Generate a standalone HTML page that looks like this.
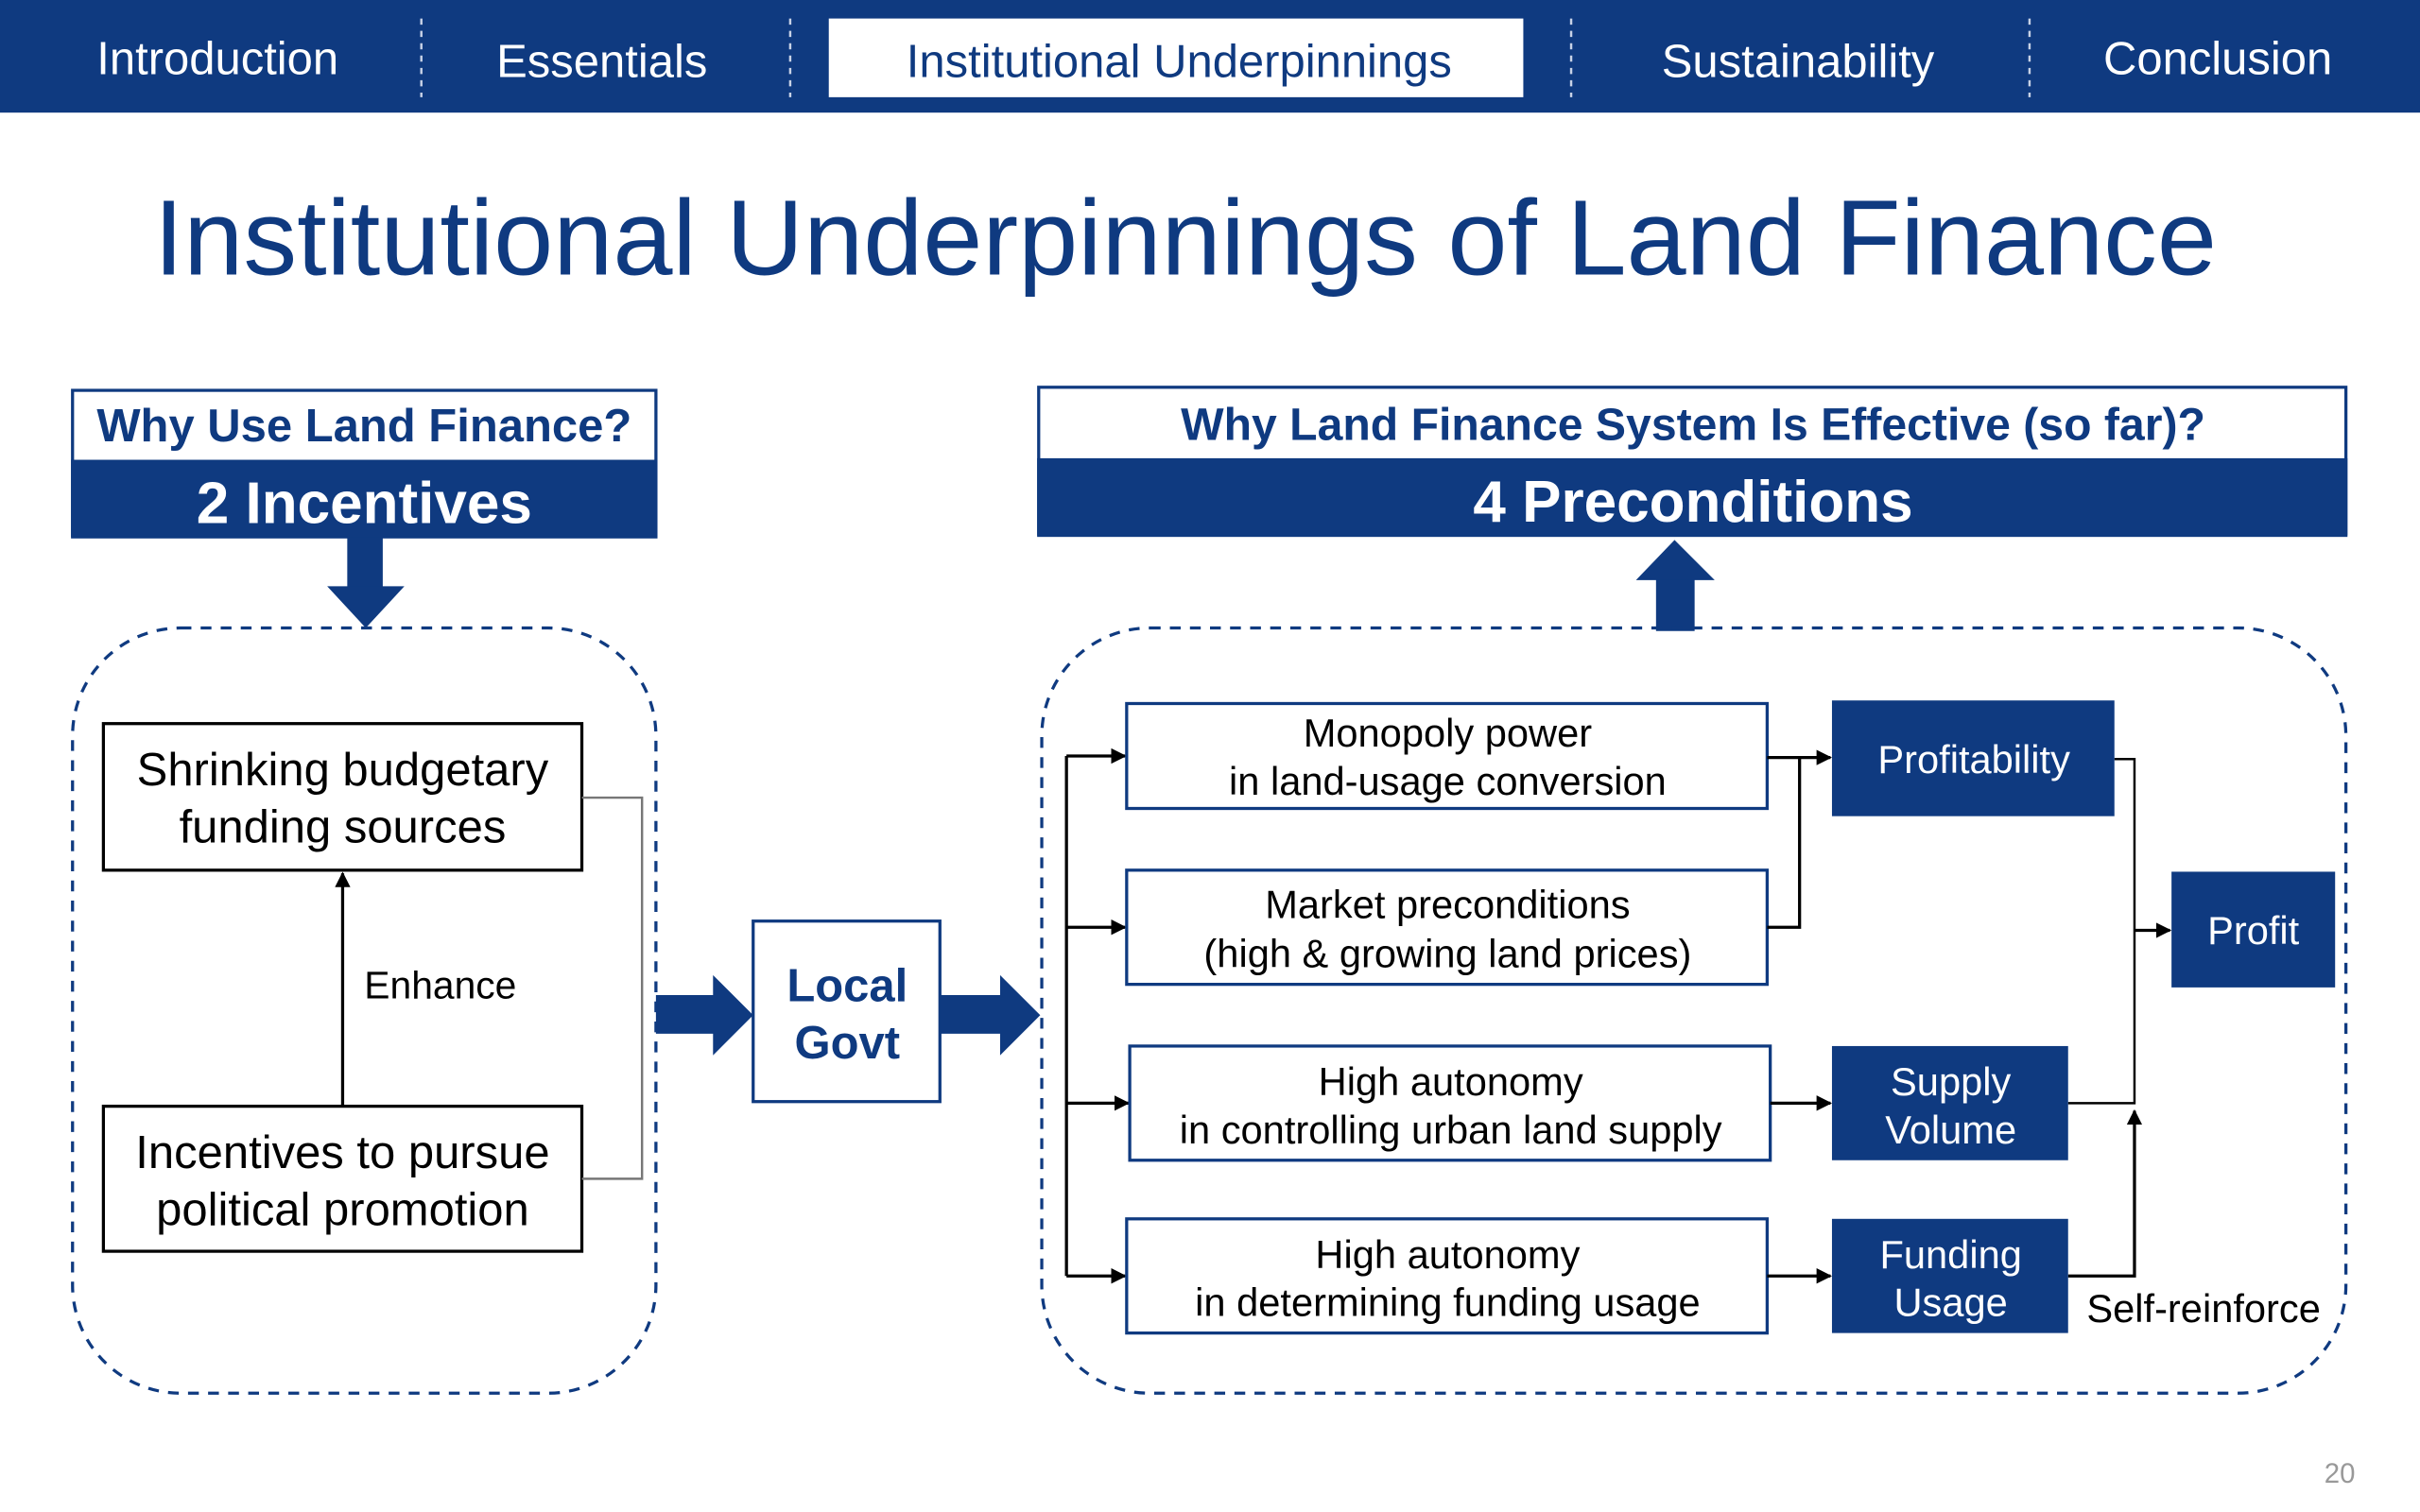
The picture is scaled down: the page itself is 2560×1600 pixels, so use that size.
<!DOCTYPE html>
<html><head><meta charset="utf-8"><style>
html,body{margin:0;padding:0;background:#fff;}
svg{display:block;}
text{font-family:"Liberation Sans",Arial,sans-serif;}
</style></head><body>
<svg width="2560" height="1600" viewBox="0 0 1568 980" xmlns="http://www.w3.org/2000/svg">
<defs>
<marker id="ah" markerWidth="10" markerHeight="10" refX="9" refY="5" orient="auto" markerUnits="userSpaceOnUse">
<path d="M0,0 L10,5 L0,10 z" fill="#000"/></marker>
</defs>
<rect x="0" y="0" width="1568" height="73" fill="#0f3a80"/>
<g stroke="#c8d2e6" stroke-width="1.5" stroke-dasharray="4,4">
<line x1="273" y1="12" x2="273" y2="63"/><line x1="512" y1="12" x2="512" y2="63"/>
<line x1="1018" y1="12" x2="1018" y2="63"/><line x1="1315" y1="12" x2="1315" y2="63"/></g>
<rect x="537" y="12" width="450" height="51" fill="#fff"/>
<g font-size="30" text-anchor="middle" fill="#fff">
<text x="141" y="48">Introduction</text><text x="390" y="50">Essentials</text>
<text x="764" y="50" fill="#0f3a80">Institutional Underpinnings</text>
<text x="1165" y="50">Sustainability</text><text x="1437" y="48">Conclusion</text></g>
<text x="768" y="178" font-size="69.5" text-anchor="middle" fill="#0f3a80">Institutional Underpinnings of Land Finance</text>
<rect x="47" y="253" width="378" height="95" fill="#fff" stroke="#0f3a80" stroke-width="2"/>
<rect x="46" y="298" width="380" height="50" fill="#0f3a80"/>
<text x="236" y="286" font-size="30" font-weight="bold" text-anchor="middle" fill="#0f3a80">Why Use Land Finance?</text>
<text x="236" y="339" font-size="38" font-weight="bold" text-anchor="middle" fill="#fff">2 Incentives</text>
<rect x="225" y="348" width="23" height="33" fill="#0f3a80"/>
<path d="M212,380 L262,380 L237,407 z" fill="#0f3a80"/>
<rect x="47" y="407" width="378" height="496" rx="70" fill="none" stroke="#0f3a80" stroke-width="2" stroke-dasharray="7,6"/>
<rect x="67" y="469" width="310" height="95" fill="#fff" stroke="#000" stroke-width="2"/>
<text x="222" y="509" font-size="30" text-anchor="middle">Shrinking budgetary</text>
<text x="222" y="546" font-size="30" text-anchor="middle">funding sources</text>
<rect x="67" y="717" width="310" height="94" fill="#fff" stroke="#000" stroke-width="2"/>
<text x="222" y="757" font-size="30" text-anchor="middle">Incentives to pursue</text>
<text x="222" y="794" font-size="30" text-anchor="middle">political promotion</text>
<line x1="222" y1="717" x2="222" y2="566" stroke="#000" stroke-width="2" marker-end="url(#ah)"/>
<text x="236" y="647" font-size="25">Enhance</text>
<polyline points="377,517 416,517 416,764 377,764" fill="none" stroke="#777" stroke-width="1.5"/>
<path d="M425,645 L462,645 L462,632 L488,658 L462,684 L462,670 L425,670 z" fill="#0f3a80"/>
<rect x="488" y="597" width="121" height="117" fill="#fff" stroke="#0f3a80" stroke-width="2"/>
<text x="549" y="649" font-size="30" font-weight="bold" text-anchor="middle" fill="#0f3a80">Local</text>
<text x="549" y="686" font-size="30" font-weight="bold" text-anchor="middle" fill="#0f3a80">Govt</text>
<path d="M609,645 L648,645 L648,632 L674,658 L648,684 L648,670 L609,670 z" fill="#0f3a80"/>
<rect x="673" y="251" width="847" height="96" fill="#fff" stroke="#0f3a80" stroke-width="2"/>
<rect x="672" y="297" width="849" height="50" fill="#0f3a80"/>
<text x="1097" y="285" font-size="29.5" font-weight="bold" text-anchor="middle" fill="#0f3a80">Why Land Finance System Is Effective (so far)?</text>
<text x="1097" y="338" font-size="38" font-weight="bold" text-anchor="middle" fill="#fff">4 Preconditions</text>
<rect x="1073" y="374" width="25" height="35" fill="#0f3a80"/>
<path d="M1060,376 L1111,376 L1085,350 z" fill="#0f3a80"/>
<rect x="675" y="407" width="845" height="496" rx="70" fill="none" stroke="#0f3a80" stroke-width="2" stroke-dasharray="7,6"/>
<line x1="691" y1="490" x2="691" y2="827" stroke="#000" stroke-width="2"/>
<g stroke="#000" stroke-width="2" marker-end="url(#ah)">
<line x1="691" y1="490" x2="729" y2="490"/><line x1="691" y1="601" x2="729" y2="601"/>
<line x1="691" y1="715" x2="731" y2="715"/><line x1="691" y1="827" x2="729" y2="827"/></g>
<g fill="#fff" stroke="#0f3a80" stroke-width="2">
<rect x="730" y="456" width="415" height="68"/><rect x="730" y="564" width="415" height="74"/>
<rect x="732" y="678" width="415" height="74"/><rect x="730" y="790" width="415" height="74"/></g>
<g font-size="25.5" text-anchor="middle">
<text x="938" y="484">Monopoly power</text><text x="938" y="515">in land-usage conversion</text>
<text x="938" y="595">Market preconditions</text><text x="938" y="627">(high &amp; growing land prices)</text>
<text x="940" y="710">High autonomy</text><text x="940" y="741">in controlling urban land supply</text>
<text x="938" y="822">High autonomy</text><text x="938" y="853">in determining funding usage</text></g>
<polyline points="1145,601 1166,601 1166,491" fill="none" stroke="#000" stroke-width="2"/>
<g stroke="#000" stroke-width="2" marker-end="url(#ah)">
<line x1="1145" y1="491" x2="1186" y2="491"/>
<line x1="1147" y1="715" x2="1186" y2="715"/>
<line x1="1145" y1="827" x2="1186" y2="827"/>
<line x1="1383" y1="603" x2="1406" y2="603"/>
</g>
<polyline points="1370,492 1383,492 1383,715 1340,715" fill="none" stroke="#000" stroke-width="1.5"/>
<polyline points="1340,827 1383,827 1383,720" fill="none" stroke="#000" stroke-width="2" marker-end="url(#ah)"/>
<g fill="#0f3a80">
<rect x="1187" y="454" width="183" height="75"/><rect x="1187" y="678" width="153" height="74"/>
<rect x="1187" y="790" width="153" height="74"/><rect x="1407" y="565" width="106" height="75"/></g>
<g font-size="25.5" text-anchor="middle" fill="#fff">
<text x="1279" y="501">Profitability</text>
<text x="1264" y="710">Supply</text><text x="1264" y="741">Volume</text>
<text x="1264" y="822">Funding</text><text x="1264" y="853">Usage</text>
<text x="1460" y="612">Profit</text></g>
<text x="1352" y="857" font-size="25.5">Self-reinforce</text>
<text x="1516" y="961" font-size="18" text-anchor="middle" fill="#999">20</text>
</svg>
</body></html>
